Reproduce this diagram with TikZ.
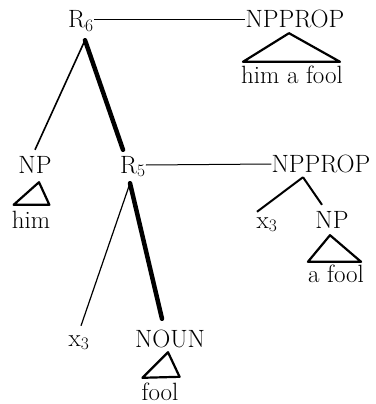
\documentclass[tikz,border=0pt]{standalone}
\usetikzlibrary{calc}
\begin{document}
\begin{tikzpicture}[x=1pt,y=-1pt,
      lab/.style={anchor=base, inner sep=0pt, text height=16pt, text depth=4pt,
                  font=\fontsize{25}{29}\selectfont},
      br/.style={line width=1.6pt},
      hv/.style={line width=4.5pt, line cap=round},
      tri/.style={line width=2.2pt, line join=round},
      lnk/.style={line width=1pt}]
    \useasboundingbox (0,0) rectangle (375,404);
    % upper tree
    \node[lab] (r6)     at (81,28)   {R\textsubscript{6}};
    \node[lab] (npropA) at (295,28)  {NPPROP};
    \node[lab] (himaf)  at (292,83)  {him a fool};
    \node[lab] (npA)    at (35,173)  {NP};
    \node[lab] (him)    at (31,228)  {him};
    \node[lab] (r5)     at (133,173) {R\textsubscript{5}};
    \node[lab] (npropB) at (321,172) {NPPROP};
    \node[lab] (xA)     at (267,228) {x\textsubscript{3}};
    \node[lab] (npB)    at (332,228) {NP};
    \node[lab] (afool)  at (336,282) {a fool};
    % lower tree
    \node[lab] (xB)     at (79,346)  {x\textsubscript{3}};
    \node[lab] (noun)   at (170,347) {NOUN};
    \node[lab] (fool)   at (160,400) {fool};

    \draw[lnk] ([yshift=2pt]r6.east) -- ([yshift=2pt]npropA.west);
    \draw[lnk] ([yshift=2pt]r5.east) -- ([yshift=2pt]npropB.west);

    \draw[br] ([xshift=4pt,yshift=-8pt]r6.south) -- ([yshift=7pt]npA.north);
    \draw[hv] ([xshift=4pt,yshift=-8pt]r6.south) -- ([xshift=-10pt,yshift=7pt]r5.north);
    \draw[br,line width=1.2pt] ([xshift=-3pt,yshift=-6pt]r5.south) -- ([xshift=2pt,yshift=4pt]xB.north);
    \draw[hv] ([xshift=-3pt,yshift=-6pt]r5.south) -- ([xshift=-8pt,yshift=12pt]noun.north);
    \draw[br,line width=2pt] ([xshift=-18pt,yshift=-1pt]npropB.south) -- ([xshift=-10pt]xA.north);
    \draw[br,line width=2pt] ([xshift=-18pt,yshift=-1pt]npropB.south) -- ([xshift=-10pt,yshift=7pt]npB.north);

    \draw[tri] ([xshift=-6pt,yshift=-1pt]npropA.south) -- ([xshift=2pt,yshift=5pt]himaf.north west)
      -- ([xshift=-3pt,yshift=5pt]himaf.north east) -- cycle;
    \draw[tri] ([xshift=4pt,yshift=-5pt]npA.south) -- ([xshift=2pt,yshift=7pt]him.north west)
      -- ([xshift=-1pt,yshift=7pt]him.north east) -- cycle;
    \draw[tri] ([xshift=-2pt,yshift=-3pt]npB.south) -- ([yshift=4pt]afool.north west)
      -- ([xshift=-3pt,yshift=4pt]afool.north east) -- cycle;
    \draw[tri] ([xshift=-2pt,yshift=-1pt]noun.south) -- ([xshift=1pt,yshift=6pt]fool.north west)
      -- ([xshift=1pt,yshift=7pt]fool.north east) -- cycle;
  \end{tikzpicture}
\end{document}
